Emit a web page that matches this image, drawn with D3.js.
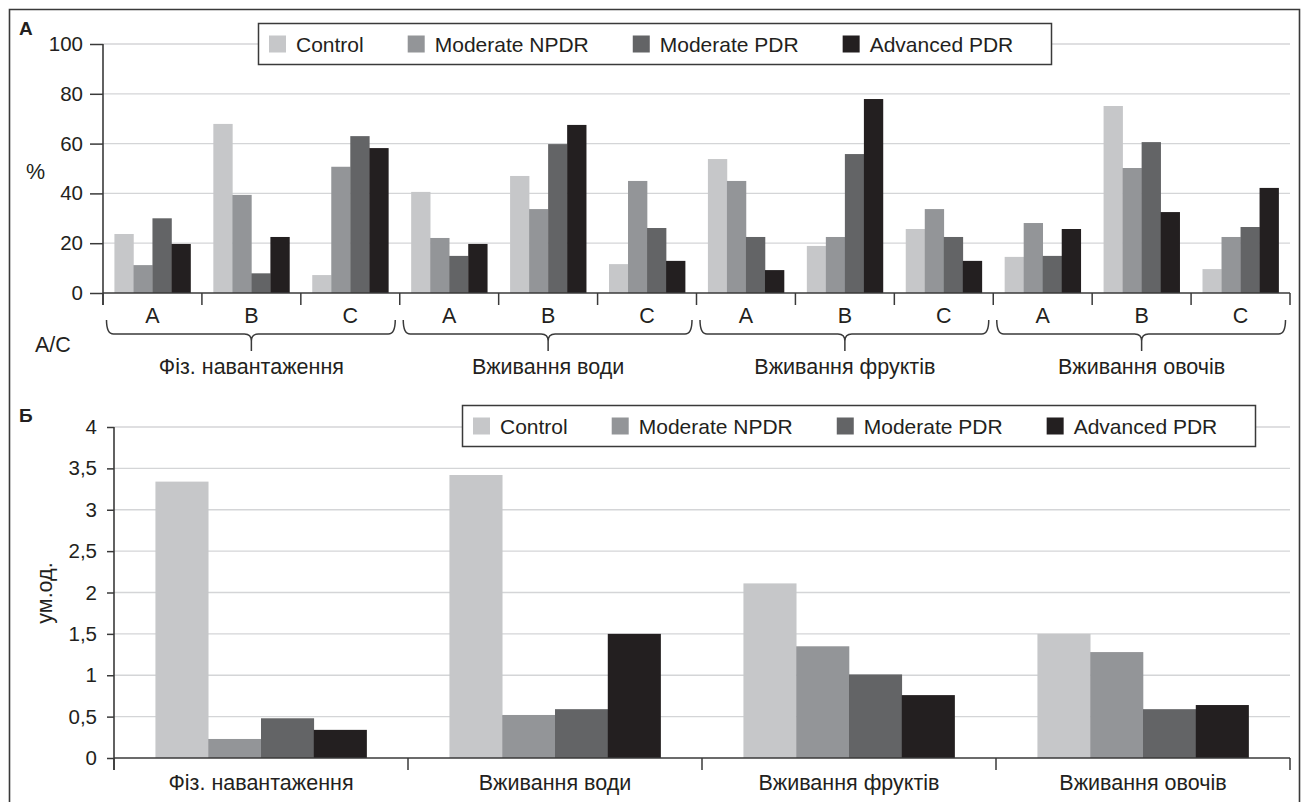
<!DOCTYPE html>
<html>
<head>
<meta charset="utf-8">
<script src="https://cdn.jsdelivr.net/npm/d3@7"></script>
<style>
  html, body { margin: 0; padding: 0; background: #fff; }
  svg { display: block; font-family: "Liberation Sans", Arial, Helvetica, sans-serif; }
</style>
</head>
<body>
<svg id="chart" width="1303" height="802"></svg>
<script>
// ---------- DATA ----------
const series = ["Control", "Moderate NPDR", "Moderate PDR", "Advanced PDR"];
const seriesColors = ["#c6c7c9", "#939598", "#636466", "#231f20"];
const groups = ["Фіз. навантаження", "Вживання води", "Вживання фруктів", "Вживання овочів"];
const subgroups = ["A", "B", "C"];

// Panel A (%) – per group, per subgroup A/B/C, values for 4 series
const panelA_phys  = [[23.7, 11.2, 30.0, 19.7], [67.9, 39.4, 7.9, 22.5], [7.2, 50.7, 63.0, 58.2]];
const panelA_water = [[40.6, 22.1, 14.9, 19.7], [47.0, 33.7, 59.8, 67.5], [11.6, 45.0, 26.1, 12.9]];
const panelA_fruit = [[53.8, 45.0, 22.5, 9.2], [18.9, 22.5, 55.8, 77.9], [25.7, 33.7, 22.5, 12.9]];
const panelA_veg   = [[14.5, 28.1, 14.9, 25.7], [75.1, 50.2, 60.6, 32.5], [9.6, 22.5, 26.5, 42.2]];
const panelA_ticks = [0, 20, 40, 60, 80, 100];

// Panel B (ум.од.)
const panelB_control  = [3.34, 3.42, 2.11, 1.50];
const panelB_npdr     = [0.23, 0.52, 1.35, 1.28];
const panelB_pdr      = [0.48, 0.59, 1.01, 0.59];
const panelB_advanced = [0.34, 1.50, 0.76, 0.64];
const panelB_ticks = [0, 0.5, 1, 1.5, 2, 2.5, 3, 3.5, 4];

// ---------- SETUP ----------
const svg = d3.select("#chart");
const textColor = "#231f20";
const axisColor = "#3a3a3a";
const gridColor = "#d4d5d7";
const FS = 20;     // tick labels
const FL = 21.5;   // legend / category labels

// outer frame
svg.append("path")
  .attr("d", "M9.5,802 L9.5,9.5 L1299.5,9.5 L1299.5,802")
  .attr("fill", "none").attr("stroke", "#3a3a3a").attr("stroke-width", 1.6);

const ukLocale = d3.formatLocale({decimal: ",", thousands: " ", grouping: [3], currency: ["", ""]});
const fmtB = d => ukLocale.format("~g")(d);

function legend(x, y, w, h) {
  const g = svg.append("g").attr("transform", `translate(${x},${y})`);
  g.append("rect").attr("x", 0.5).attr("y", 0.5).attr("width", w).attr("height", h)
    .attr("fill", "#fff").attr("stroke", "#3a3a3a").attr("stroke-width", 1.5);
  let cx = 11;
  series.forEach((s, i) => {
    g.append("rect").attr("x", cx).attr("y", h / 2 - 8).attr("width", 17).attr("height", 17)
      .attr("fill", seriesColors[i]);
    const t = g.append("text").attr("x", cx + 27).attr("y", h / 2 + 8)
      .attr("font-size", FL - 0.5).attr("fill", textColor).text(s);
    cx = cx + 27 + t.node().getComputedTextLength() + 44;
  });
}

// ---------- PANEL A ----------
(function () {
  const valuesByGroup = [panelA_phys, panelA_water, panelA_fruit, panelA_veg];
  const rows = [];
  groups.forEach((g, gi) => subgroups.forEach((s, si) => {
    rows.push({key: gi + "-" + s, group: g, gi, sub: s, values: valuesByGroup[gi][si]});
  }));
  const left = 103, right = 1290, top = 44, bottom = 293;
  const x0 = d3.scaleBand().domain(rows.map(r => r.key)).range([left, right]).padding(0);
  const x1 = d3.scaleBand().domain(series).range([0, x0.bandwidth()]).paddingInner(0).paddingOuter(0.6);
  const y = d3.scaleLinear().domain([0, 100]).range([bottom, top]);

  // gridlines
  svg.append("g").selectAll("line").data(panelA_ticks.filter(d => d > 0)).join("line")
    .attr("x1", left).attr("x2", right)
    .attr("y1", d => y(d)).attr("y2", d => y(d))
    .attr("stroke", gridColor).attr("stroke-width", 1.3);

  // bars
  const gb = svg.append("g");
  rows.forEach(r => {
    gb.append("g").attr("transform", `translate(${x0(r.key)},0)`)
      .selectAll("rect").data(r.values).join("rect")
      .attr("x", (d, i) => x1(series[i]))
      .attr("width", x1.bandwidth() + 0.3)
      .attr("y", d => y(d)).attr("height", d => bottom - y(d))
      .attr("fill", (d, i) => seriesColors[i]);
  });

  // y axis
  const ya = svg.append("g").attr("transform", `translate(${left},0)`)
    .call(d3.axisLeft(y).tickValues(panelA_ticks).tickSize(13).tickPadding(7));
  ya.select(".domain").remove();
  ya.selectAll(".tick line").attr("stroke", axisColor).attr("stroke-width", 1.5);
  ya.selectAll("text").attr("font-size", FS + 0.5).attr("fill", textColor).attr("font-family", null);
  svg.append("line").attr("x1", left).attr("x2", left).attr("y1", top).attr("y2", bottom + 12)
    .attr("stroke", axisColor).attr("stroke-width", 1.6);

  // x axis baseline + boundary ticks
  svg.append("line").attr("x1", left).attr("x2", right).attr("y1", bottom).attr("y2", bottom)
    .attr("stroke", axisColor).attr("stroke-width", 1.6);
  const bounds = rows.map(r => x0(r.key)).concat([right]);
  svg.append("g").selectAll("line").data(bounds).join("line")
    .attr("x1", d => d).attr("x2", d => d).attr("y1", bottom).attr("y2", bottom + 12)
    .attr("stroke", axisColor).attr("stroke-width", 1.5);

  // subgroup labels
  svg.append("g").selectAll("text").data(rows).join("text")
    .attr("x", r => x0(r.key) + x0.bandwidth() / 2).attr("y", 323)
    .attr("text-anchor", "middle").attr("font-size", FL).attr("fill", textColor)
    .text(r => r.sub);

  // braces and group labels
  groups.forEach((g, gi) => {
    const xs = rows.filter(r => r.gi === gi).map(r => x0(r.key));
    const L = xs[0] + 3.5, R = xs[xs.length - 1] + x0.bandwidth() - 4.5;
    const C = (xs[0] + xs[xs.length - 1] + x0.bandwidth()) / 2;
    const t = 320, m = 334, tip = 351, r = 7;
    const d = `M${L},${t} Q${L},${m} ${L + r},${m} L${C - r},${m} Q${C},${m} ${C},${m + r} L${C},${tip}` +
              ` M${C},${m + r} Q${C},${m} ${C + r},${m} L${R - r},${m} Q${R},${m} ${R},${t}`;
    svg.append("path").attr("d", d).attr("fill", "none")
      .attr("stroke", axisColor).attr("stroke-width", 1.5);
    svg.append("text").attr("x", C).attr("y", 374).attr("text-anchor", "middle")
      .attr("font-size", FL).attr("fill", textColor).text(g);
  });

  // labels
  svg.append("text").attr("x", 19).attr("y", 35).attr("font-size", 19).attr("font-weight", "bold")
    .attr("fill", textColor).text("А");
  svg.append("text").attr("x", 26).attr("y", 179).attr("font-size", FL).attr("fill", textColor).text("%");
  svg.append("text").attr("x", 35).attr("y", 352).attr("font-size", FL).attr("fill", textColor).text("A/C");

  legend(258, 23, 793, 41);
})();

// ---------- PANEL B ----------
(function () {
  const seriesVals = [panelB_control, panelB_npdr, panelB_pdr, panelB_advanced];
  const left = 114, right = 1290, top = 427, bottom = 758;
  const x0 = d3.scaleBand().domain(groups).range([left, right]).padding(0);
  const x1 = d3.scaleBand().domain(series).range([0, x0.bandwidth()]).paddingInner(0).paddingOuter(0.785);
  const y = d3.scaleLinear().domain([0, 4]).range([bottom, top]);

  svg.append("g").selectAll("line").data(panelB_ticks.filter(d => d > 0)).join("line")
    .attr("x1", left).attr("x2", right)
    .attr("y1", d => y(d)).attr("y2", d => y(d))
    .attr("stroke", gridColor).attr("stroke-width", 1.3);

  legend(462, 405, 793, 41);

  const gb = svg.append("g");
  groups.forEach((g, gi) => {
    gb.append("g").attr("transform", `translate(${x0(g)},0)`)
      .selectAll("rect").data(series).join("rect")
      .attr("x", s => x1(s)).attr("width", x1.bandwidth() + 0.3)
      .attr("y", (s, si) => y(seriesVals[si][gi]))
      .attr("height", (s, si) => bottom - y(seriesVals[si][gi]))
      .attr("fill", (s, si) => seriesColors[si]);
  });

  const ya = svg.append("g").attr("transform", `translate(${left},0)`)
    .call(d3.axisLeft(y).tickValues(panelB_ticks).tickSize(7).tickPadding(10).tickFormat(fmtB));
  ya.select(".domain").remove();
  ya.selectAll(".tick line").attr("stroke", axisColor).attr("stroke-width", 1.5);
  ya.selectAll("text").attr("font-size", FS + 0.5).attr("fill", textColor).attr("font-family", null);
  svg.append("line").attr("x1", left).attr("x2", left).attr("y1", top).attr("y2", bottom + 12)
    .attr("stroke", axisColor).attr("stroke-width", 1.6);

  svg.append("line").attr("x1", left).attr("x2", right).attr("y1", bottom).attr("y2", bottom)
    .attr("stroke", axisColor).attr("stroke-width", 1.6);
  const bounds = groups.map(g => x0(g)).concat([right]);
  svg.append("g").selectAll("line").data(bounds).join("line")
    .attr("x1", d => d).attr("x2", d => d).attr("y1", bottom).attr("y2", bottom + 12)
    .attr("stroke", axisColor).attr("stroke-width", 1.5);

  svg.append("g").selectAll("text").data(groups).join("text")
    .attr("x", g => x0(g) + x0.bandwidth() / 2).attr("y", 790)
    .attr("text-anchor", "middle").attr("font-size", FL).attr("fill", textColor).text(g => g);

  svg.append("text").attr("x", 19).attr("y", 422).attr("font-size", 19).attr("font-weight", "bold")
    .attr("fill", textColor).text("Б");
  svg.append("text").attr("transform", `translate(52,593) rotate(-90)`)
    .attr("text-anchor", "middle").attr("font-size", FL).attr("fill", textColor).text("ум.од.");
})();
</script>
</body>
</html>
